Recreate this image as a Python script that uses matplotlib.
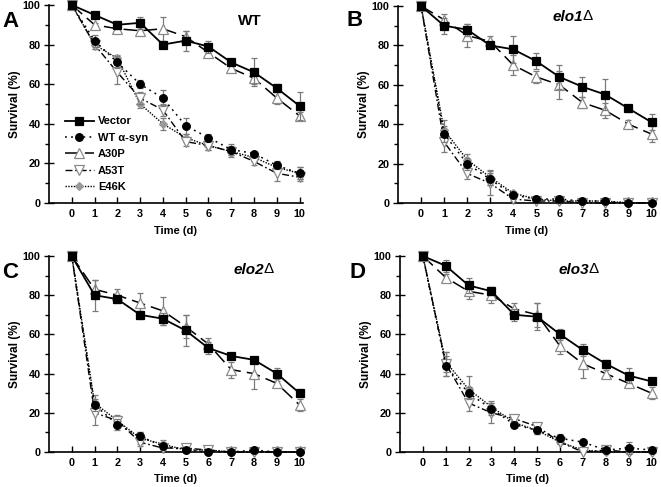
import matplotlib
matplotlib.use("Agg")
import matplotlib.pyplot as plt
import numpy as np

plt.rcParams['font.family'] = ['Liberation Sans', 'DejaVu Sans']
plt.rcParams['font.weight'] = 'bold'

days = list(range(0, 11))
series_names = ["Vector", "WT α-syn", "A30P", "A53T", "E46K"]

# Panel A (WT)
A_vector = [100, 95, 90, 91, 80, 82, 79, 71, 66, 58, 49]
A_vector_err = [0, 1, 2, 3, 1, 5, 3, 1, 7, 2, 7]
A_wt = [100, 82, 71, 60, 53, 39, 33, 27, 25, 19, 15]
A_wt_err = [0, 3, 3, 2, 4, 4, 2, 3, 1, 2, 3]
A_a30p = [100, 90, 88, 87, 88, 84, 76, 68, 63, 53, 44]
A_a30p_err = [0, 1, 2, 2, 6, 3, 2, 2, 3, 3, 2]
A_a53t = [100, 80, 66, 53, 47, 31, 29, 26, 21, 15, 13]
A_a53t_err = [0, 2, 6, 3, 3, 2, 2, 3, 2, 4, 2]
A_e46k = [100, 80, 73, 50, 40, 33, 29, 26, 23, 18, 15]
A_e46k_err = [0, 2, 2, 2, 3, 2, 2, 2, 2, 2, 3]

# Panel B (elo1Δ)
B_vector = [100, 90, 88, 80, 78, 72, 64, 59, 55, 48, 41]
B_vector_err = [0, 4, 3, 1, 7, 4, 6, 5, 8, 2, 4]
B_wt = [100, 35, 20, 12, 4, 2, 2, 1, 1, 0, 0]
B_wt_err = [0, 4, 3, 3, 1, 1, 1, 0, 0, 0, 0]
B_a30p = [100, 93, 85, 82, 70, 64, 60, 51, 47, 40, 35]
B_a30p_err = [0, 3, 6, 3, 5, 3, 7, 3, 4, 2, 4]
B_a53t = [100, 31, 15, 10, 2, 1, 1, 0, 0, 0, 0]
B_a53t_err = [0, 5, 3, 6, 1, 1, 1, 0, 0, 0, 0]
B_e46k = [100, 37, 22, 13, 5, 2, 1, 1, 1, 0, 0]
B_e46k_err = [0, 5, 3, 4, 1, 1, 1, 0, 0, 0, 0]

# Panel C (elo2Δ)
C_vector = [100, 80, 78, 70, 68, 62, 53, 49, 47, 40, 30]
C_vector_err = [0, 8, 2, 2, 3, 8, 3, 1, 1, 3, 2]
C_wt = [100, 24, 14, 8, 3, 1, 0, 0, 1, 0, 0]
C_wt_err = [0, 3, 3, 2, 1, 1, 0, 0, 0, 0, 0]
C_a30p = [100, 83, 80, 76, 72, 64, 55, 42, 40, 35, 24]
C_a30p_err = [0, 5, 3, 5, 7, 6, 3, 4, 8, 1, 3]
C_a53t = [100, 20, 16, 5, 2, 2, 1, 0, 0, 0, 0]
C_a53t_err = [0, 6, 2, 2, 1, 0, 0, 0, 0, 0, 0]
C_e46k = [100, 25, 16, 7, 4, 1, 1, 0, 0, 0, 0]
C_e46k_err = [0, 4, 3, 3, 2, 1, 0, 0, 0, 0, 0]

# Panel D (elo3Δ)
D_vector = [100, 95, 85, 82, 70, 69, 60, 52, 45, 39, 36]
D_vector_err = [0, 3, 4, 2, 3, 7, 3, 3, 2, 4, 1]
D_wt = [100, 44, 30, 22, 14, 11, 7, 5, 1, 2, 1]
D_wt_err = [0, 5, 3, 3, 1, 2, 2, 1, 0, 3, 1]
D_a30p = [100, 89, 82, 80, 73, 70, 54, 45, 40, 35, 30]
D_a30p_err = [0, 2, 4, 4, 3, 6, 4, 7, 2, 2, 3]
D_a53t = [100, 45, 25, 20, 17, 13, 5, 0, 1, 0, 0]
D_a53t_err = [0, 6, 4, 5, 1, 2, 1, 0, 0, 0, 0]
D_e46k = [100, 46, 32, 23, 15, 11, 5, 1, 0, 0, 0]
D_e46k_err = [0, 5, 7, 3, 2, 2, 1, 0, 0, 0, 0]

panels = [
    ("A", "WT", [A_vector, A_wt, A_a30p, A_a53t, A_e46k],
     [A_vector_err, A_wt_err, A_a30p_err, A_a53t_err, A_e46k_err]),
    ("B", "elo1", [B_vector, B_wt, B_a30p, B_a53t, B_e46k],
     [B_vector_err, B_wt_err, B_a30p_err, B_a53t_err, B_e46k_err]),
    ("C", "elo2", [C_vector, C_wt, C_a30p, C_a53t, C_e46k],
     [C_vector_err, C_wt_err, C_a30p_err, C_a53t_err, C_e46k_err]),
    ("D", "elo3", [D_vector, D_wt, D_a30p, D_a53t, D_e46k],
     [D_vector_err, D_wt_err, D_a30p_err, D_a53t_err, D_e46k_err]),
]

styles = [
    dict(ls='-', marker='s', mfc='black', mec='black', ms=6, lw=1.3, z=6),
    dict(ls=(0, (1.2, 2.8)), marker='o', mfc='black', mec='black', ms=5.5, lw=1.1, z=5),
    dict(ls=(0, (9, 4)), marker='^', mfc='white', mec='#8a8a8a', ms=6.5, lw=1.1, z=4),
    dict(ls=(0, (5, 2, 1.2, 2)), marker='v', mfc='white', mec='#8a8a8a', ms=6.5, lw=1.0, z=3),
    dict(ls=(0, (1, 1)), marker='D', mfc='#9a9a9a', mec='#9a9a9a', ms=4, lw=1.0, z=2),
]

W, H = 661, 487
fig = plt.figure(figsize=(W / 100, H / 100), dpi=100)

# axes boxes in pixel coordinates: (left, right, top, bottom)
boxes = [(49, 303, 5, 203), (398, 655, 6, 203), (49, 303, 256, 452), (400, 655, 256, 452)]
title_pos = [(0.79, 0.92), (0.60, 0.945), (0.725, 0.93), (0.62, 0.93)]
letter_pos = [(2, 27), (347, 26), (2, 278), (350, 278)]

for (letter, title, vals, errs), (l, r, t, b), (tx, ty), (lx, ly) in zip(panels, boxes, title_pos, letter_pos):
    ax = fig.add_axes([l / W, 1 - b / H, (r - l) / W, (b - t) / H])
    for name, y, e, st in zip(series_names, vals, errs, styles):
        ax.errorbar(days, y, yerr=e, fmt='none', ecolor='#7a7a7a', elinewidth=0.9,
                    capsize=2, capthick=0.9, zorder=st['z'] - 0.5, clip_on=False)
        ax.plot(days, y, color='black', linestyle=st['ls'], lw=st['lw'],
                marker=st['marker'], mfc=st['mfc'], mec=st['mec'], ms=st['ms'],
                mew=0.9, label=name, zorder=st['z'], clip_on=False)
    ax.set_xlim(-1, 10.15)
    ax.set_ylim(0, 100)
    ax.spines['top'].set_visible(False)
    ax.spines['right'].set_visible(False)
    ax.spines['left'].set_linewidth(1.2)
    ax.spines['bottom'].set_linewidth(1.2)
    ax.set_xticks(days)
    ax.set_yticks([0, 20, 40, 60, 80, 100])
    ax.set_yticks([10, 30, 50, 70, 90], minor=True)
    ax.tick_params(axis='x', direction='in', length=4, width=1, labelsize=7.8, pad=4)
    ax.tick_params(axis='y', which='major', direction='inout', length=7, width=1, labelsize=7.8, pad=2.5)
    ax.tick_params(axis='y', which='minor', direction='out', length=3, width=1)
    for lab in ax.get_xticklabels() + ax.get_yticklabels():
        lab.set_fontweight('bold')
    ax.set_xlabel("Time (d)", fontsize=8, fontweight='bold', labelpad=5)
    ax.set_ylabel("Survival (%)", fontsize=8.5, fontweight='bold', labelpad=1.5)
    # panel letter
    fig.text(lx / W, 1 - ly / H, letter, fontsize=16,
             fontweight='bold', ha='left', va='baseline')
    if title == "WT":
        ax.text(tx, ty, "WT", transform=ax.transAxes, fontsize=11,
                fontweight='bold', ha='center', va='center')
    else:
        tt = ax.text(tx, ty, title, transform=ax.transAxes, fontsize=11,
                     fontweight='bold', fontstyle='italic', ha='left', va='center')
        ax.annotate("Δ", xy=(1, 0), xycoords=tt, xytext=(-0.5, 0.5), textcoords='offset points',
                    fontsize=11, fontweight='normal', ha='left', va='bottom')
    if letter == "A":
        leg = ax.legend(loc='upper left', bbox_to_anchor=(0.04, 0.465), frameon=False,
                        fontsize=8, handlelength=2.6, handletextpad=0.4,
                        labelspacing=0.58, borderpad=0)
        for txt in leg.get_texts():
            txt.set_fontweight('bold')

fig.savefig("out.png", dpi=100)
